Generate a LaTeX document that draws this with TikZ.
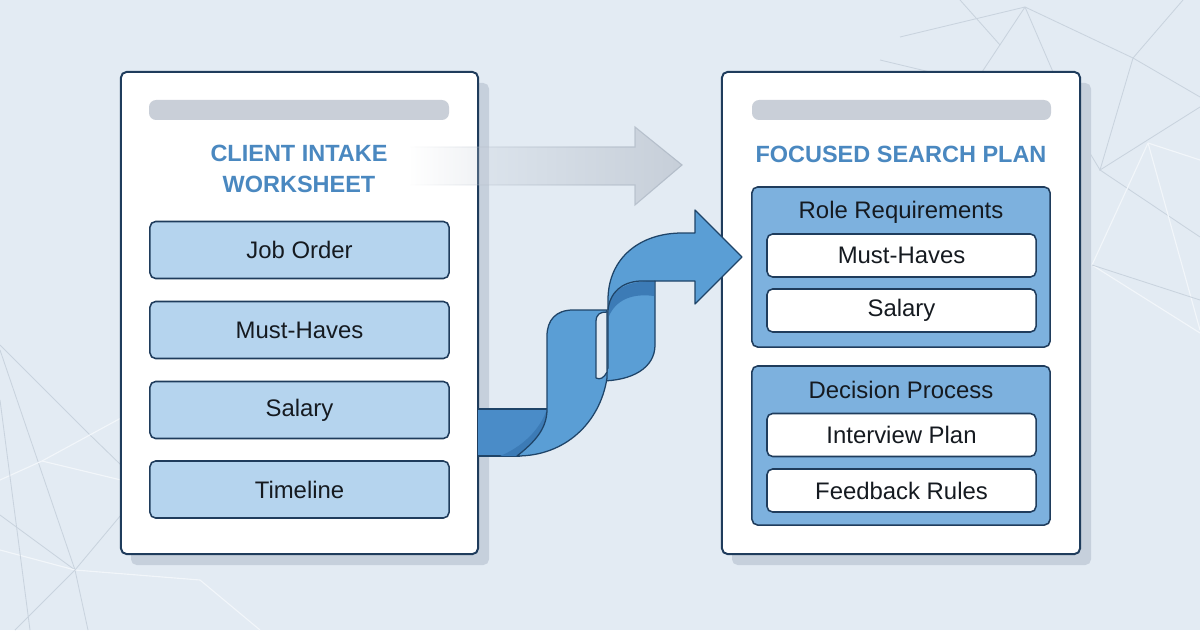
\documentclass[tikz,border=0pt]{standalone}
\usepackage{fontspec}
\setmainfont{Liberation Sans}
\usetikzlibrary{fadings}
\definecolor{bg}{HTML}{E3EBF3}
\definecolor{dk}{HTML}{1F3C5C}
\definecolor{itemfill}{HTML}{B5D4EE}
\definecolor{grpfill}{HTML}{7DB1DE}
\definecolor{titleblue}{HTML}{4A88C0}
\definecolor{barcol}{HTML}{C9CFD8}
\definecolor{shadowc}{HTML}{C6D0DC}
\definecolor{txt}{HTML}{151A20}
\definecolor{arrowgray}{HTML}{C7CFD9}
\definecolor{arrowedge}{HTML}{B3BDC9}
\definecolor{ribmain}{HTML}{5A9ED5}
\definecolor{ribmid}{HTML}{4A8CC8}
\definecolor{ribdark}{HTML}{3C7BB6}
\definecolor{ribline}{HTML}{1F4468}
\definecolor{netdark}{HTML}{C9D3DE}
\definecolor{netlight}{HTML}{F2F6FA}
\tikzfading[name=arrowfade, left color=transparent!100, middle color=transparent!15, right color=transparent!0]
\begin{document}
\begin{tikzpicture}[x=0.025cm,y=-0.025cm,
  panel/.style={draw=dk, line width=1.4pt, fill=white, rounded corners=4pt, inner sep=0pt},
  item/.style={draw=dk, line width=1.1pt, fill=itemfill, rounded corners=4pt, inner sep=0pt,
    minimum width=7.475cm, minimum height=1.425cm, font=\fontsize{17}{20}\selectfont, text=txt},
  group/.style={draw=dk, line width=1.1pt, fill=grpfill, rounded corners=4pt, inner sep=0pt, minimum width=7.45cm},
  wbox/.style={draw=dk, line width=1.1pt, fill=white, rounded corners=4pt, inner sep=0pt,
    minimum width=6.725cm, minimum height=1.075cm, font=\fontsize{17}{20}\selectfont, text=txt},
  glabel/.style={font=\fontsize{17}{20}\selectfont, text=txt, inner sep=0pt},
  title/.style={font=\fontsize{16.7}{22}\bfseries\selectfont, text=titleblue, align=center, inner sep=0pt},
  bar/.style={fill=barcol, rounded corners=5pt},
  netd/.style={draw=netdark, line width=0.6pt},
  netl/.style={draw=netlight, line width=0.8pt},
  rib/.style={draw=ribline, line width=0.9pt, line join=round}]
\fill[bg] (0,0) rectangle (1200,630);
\useasboundingbox (0,0) rectangle (1200,630);

% background network lines
\draw[netd] (900,37) -- (1025,7) -- (1133,58) -- (1183,0);
\draw[netd] (1025,7) -- (982,72);
\draw[netd] (1025,7) -- (1053,72);
\draw[netd] (1133,58) -- (1200,97);
\draw[netd] (1133,58) -- (1100,170) -- (1200,107);
\draw[netd] (1100,170) -- (1088,150);
\draw[netd] (1100,170) -- (1200,237);
\draw[netd] (960,0) -- (1000,45);
\draw[netd] (880,60) -- (930,72);
\draw[netl] (1148,143) -- (1200,160);
\draw[netl] (1148,143) -- (1092,265) -- (1200,333);
\draw[netl] (1148,143) -- (1200,330);
\draw[netd] (1092,265) -- (1200,300);
\draw[netd] (0,345) -- (88,433) -- (121,465);
\draw[netd] (0,350) -- (75,570) -- (88,630);
\draw[netl] (0,480) -- (42,461) -- (121,418);
\draw[netl] (42,461) -- (121,480);
\draw[netd] (0,515) -- (75,570);
\draw[netl] (0,550) -- (75,570) -- (200,580);
\draw[netd] (75,570) -- (121,515);
\draw[netd] (75,570) -- (15,630);
\draw[netl] (200,580) -- (260,630);
\draw[netd] (0,400) -- (30,630);

% shadows
\fill[shadowc, rounded corners=4pt] (131,83) rectangle (489,565);
\fill[shadowc, rounded corners=4pt] (732,83) rectangle (1091,565);

% panels
\node[panel, minimum width=8.925cm, minimum height=12.05cm] (lp) at (299.5,313) {};
\node[panel, minimum width=8.95cm, minimum height=12.05cm] (rp) at (901,313) {};

% top bars
\fill[bar] (149,100) rectangle (449,120);
\fill[bar] (752,100) rectangle (1051,120);

% titles
\node[title] (lt) at (299,169) {CLIENT INTAKE\\WORKSHEET};
\node[title] (rt) at (901,154) {FOCUSED SEARCH PLAN};

% left items
\node[item] (job) at (299.5,250) {Job Order};
\node[item] (must) at (299.5,330) {Must-Haves};
\node[item] (sal) at (299.5,410) {Salary};
\node[item] (time) at (299.5,489.5) {Timeline};

% right groups
\node[group, minimum height=4cm] (rr) at (901,267) {};
\node[glabel] (rrl) at (901,212) {Role Requirements};
\node[wbox] (rmust) at (901.5,255.5) {Must-Haves};
\node[wbox] (rsal) at (901.5,310.5) {Salary};
\node[group, minimum height=3.975cm] (dp) at (901,445.5) {};
\node[glabel] (dpl) at (901,390) {Decision Process};
\node[wbox] (rint) at (901.5,435) {Interview Plan};
\node[wbox] (rfb) at (901.5,490.5) {Feedback Rules};

% gray arrow
\path[fill=arrowgray, path fading=arrowfade]
  (410,147) -- (635,147) -- (635,127) -- (682,165) -- (635,205) -- (635,185) -- (410,185) -- cycle;
\draw[arrowedge, line width=0.8pt, path fading=arrowfade]
  (410,147) -- (635,147) -- (635,127) -- (682,165) -- (635,205) -- (635,185) -- (410,185);

% twisted ribbon arrow
% back strand with shaft and head
\filldraw[rib, fill=ribmain]
  (695,210) -- (742,257) -- (695,304) -- (695,281) -- (655,281) -- (655,345)
  .. controls (655,368) and (632,381) .. (600,381)
  -- (608,368) -- (608,300)
  .. controls (608,258) and (640,233) .. (682,233) -- (695,233) -- cycle;
% dark underside at top of back strand
\fill[ribdark] (609,303) .. controls (615,287) and (630,281) .. (654,281) -- (654,296)
  .. controls (632,293) and (616,300) .. (609,316) -- cycle;
\draw[rib] (655,281) -- (640,281) .. controls (622,282) and (610,292) .. (608,310);
% horizontal band
\fill[ribmid] (478,409) -- (549,409) -- (522,456) -- (478,456) -- cycle;
\draw[rib] (478,409) -- (549,409);
\draw[rib] (478,456) -- (520,456);
\fill[ribdark] (500,456) .. controls (522,447) and (540,430) .. (547,409) -- (547,420)
  .. controls (541,438) and (530,450) .. (517,456) -- cycle;
% front strand
\filldraw[rib, fill=ribmain]
  (517,456) .. controls (536,441) and (547,428) .. (547,409) -- (547,336)
  .. controls (547,320) and (556,310) .. (573,310) -- (607,310) -- (607,378)
  .. controls (600,423) and (565,456) .. (517,456) -- cycle;
% gap between strands
\filldraw[rib, fill=bg]
  (596,322) .. controls (596,314) and (600,312) .. (607,312) -- (607,372)
  .. controls (604,378) and (600,380) .. (596,378) -- cycle;
\end{tikzpicture}
\end{document}
